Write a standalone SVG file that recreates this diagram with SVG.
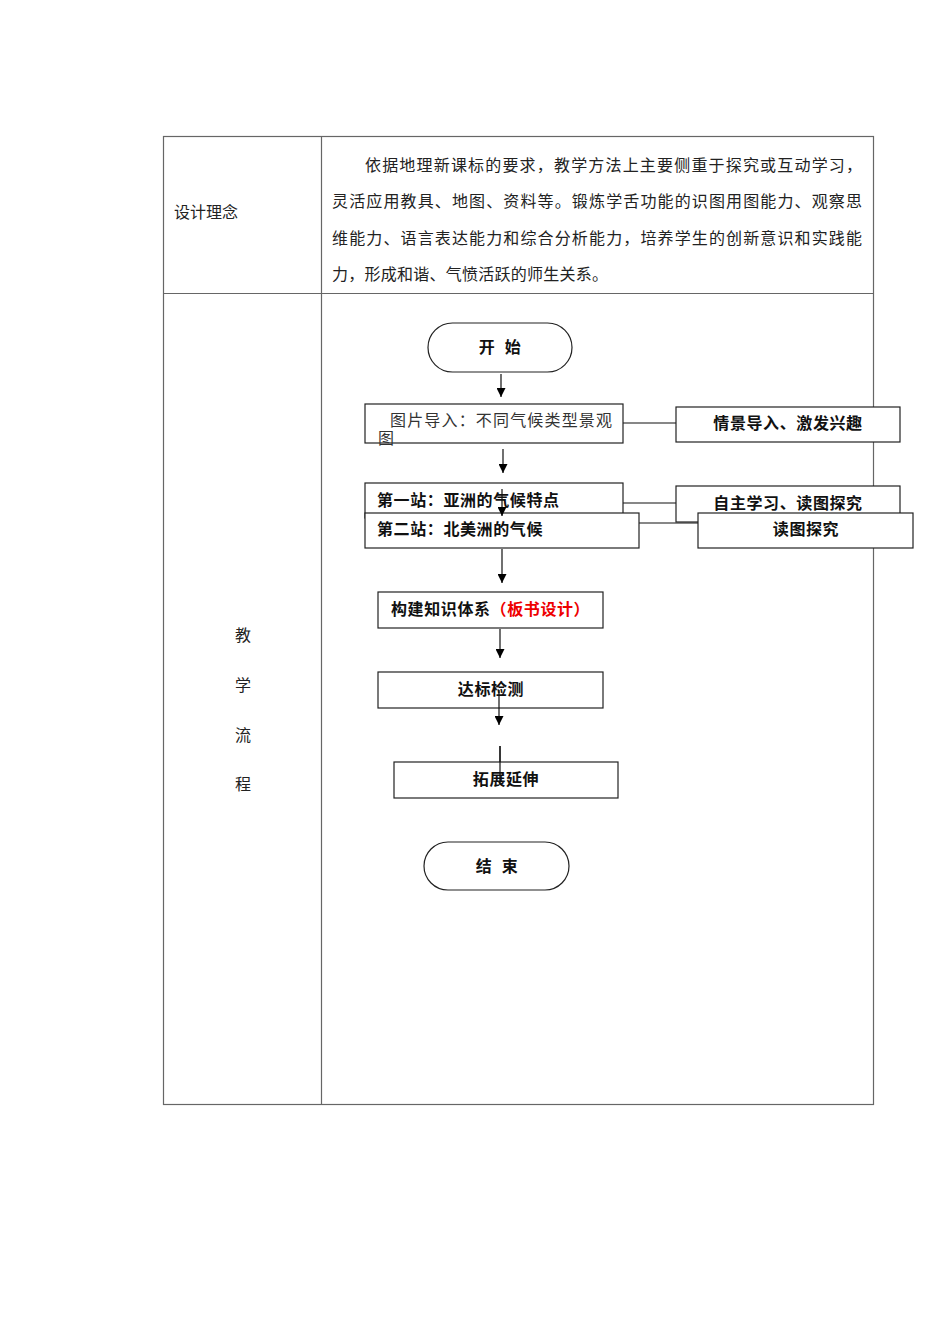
<svg xmlns="http://www.w3.org/2000/svg" width="950" height="1344" viewBox="0 0 950 1344">
<style>
.tb{fill:none;stroke:#666;stroke-width:1.2}
.bx{fill:#fff;stroke:#222;stroke-width:1.2}
.ln{stroke:#111;stroke-width:1.2;fill:none}
.t{font-family:"Liberation Serif","Noto Sans CJK SC",serif;font-size:16px;fill:#222}
.b{font-family:"Liberation Sans","Noto Sans CJK SC",sans-serif;font-size:16px;font-weight:bold;fill:#111;letter-spacing:0.6px}
.r{font-family:"Liberation Sans","Noto Sans CJK SC",sans-serif;font-size:16px;fill:#333}
</style>
<defs>
<marker id="ah" viewBox="0 0 10 10" refX="10" refY="5" markerWidth="9" markerHeight="9" markerUnits="userSpaceOnUse" orient="auto"><path d="M0,0 L10,5 L0,10 z" fill="#000"/></marker>
</defs>
<rect width="950" height="1344" fill="#fff"/>
<g id="table">
<rect class="tb" x="163.5" y="136.5" width="710" height="968"/>
<line class="tb" x1="321.5" y1="136.5" x2="321.5" y2="1104.5"/>
<line class="tb" x1="163.5" y1="293.5" x2="873.5" y2="293.5"/>
<text class="t" x="174" y="218">设计理念</text>
<text class="t" x="365" y="171" textLength="497" lengthAdjust="spacing">依据地理新课标的要求，教学方法上主要侧重于探究或互动学习，</text>
<text class="t" x="332" y="207" textLength="530" lengthAdjust="spacing">灵活应用教具、地图、资料等。锻炼学舌功能的识图用图能力、观察思</text>
<text class="t" x="332" y="244" textLength="530" lengthAdjust="spacing">维能力、语言表达能力和综合分析能力，培养学生的创新意识和实践能</text>
<text class="t" x="332" y="280" textLength="276" lengthAdjust="spacing">力，形成和谐、气愤活跃的师生关系。</text>
<text class="t" x="243" y="641" text-anchor="middle">教</text>
<text class="t" x="243" y="691" text-anchor="middle">学</text>
<text class="t" x="243" y="741" text-anchor="middle">流</text>
<text class="t" x="243" y="790" text-anchor="middle">程</text>
</g>
<g id="connectors">
<line class="ln" x1="501" y1="374" x2="501" y2="397" marker-end="url(#ah)"/>
<line class="ln" x1="623" y1="423" x2="676" y2="423"/>
<line class="ln" x1="503" y1="449" x2="503" y2="473" marker-end="url(#ah)"/>
<line class="ln" x1="623" y1="503" x2="676" y2="503"/>
<line class="ln" x1="639" y1="523" x2="698" y2="523"/>
<line class="ln" x1="502" y1="549" x2="502" y2="583" marker-end="url(#ah)"/>
<line class="ln" x1="500" y1="629" x2="500" y2="658" marker-end="url(#ah)"/>
<line class="ln" x1="500" y1="746" x2="500" y2="775"/>
</g>
<g id="start"><rect class="bx" x="428" y="323" width="144" height="49" rx="24.5"/><text class="b" x="487" y="353" text-anchor="middle">开</text><text class="b" x="513" y="353" text-anchor="middle">始</text></g>
<g id="intro"><rect class="bx" x="365" y="404" width="258" height="39"/><text class="r" x="390" y="426" textLength="222" lengthAdjust="spacing">图片导入：不同气候类型景观</text><text class="r" x="378" y="444">图</text></g>
<g id="note1"><rect class="bx" x="676" y="407" width="224" height="35"/><text class="b" x="788" y="429" text-anchor="middle">情景导入、激发兴趣</text></g>
<g id="station1"><rect class="bx" x="365" y="483" width="258" height="35"/><text class="b" x="377" y="506">第一站：亚洲的气候特点</text></g>
<g id="note2"><rect class="bx" x="676" y="486" width="224" height="36"/><text class="b" x="788" y="509" text-anchor="middle">自主学习、读图探究</text></g>
<g id="station2"><rect class="bx" x="365" y="513" width="274" height="35"/><text class="b" x="377" y="535">第二站：北美洲的气候</text></g>
<g id="note3"><rect class="bx" x="698" y="513" width="215" height="35"/><text class="b" x="806" y="535" text-anchor="middle">读图探究</text></g>
<line class="ln" x1="502" y1="489" x2="502" y2="516" marker-end="url(#ah)"/>
<g id="build"><rect class="bx" x="378" y="592" width="225" height="36"/><text class="b" x="391" y="615">构建知识体系<tspan fill="#e00">（板书设计）</tspan></text></g>
<g id="test"><rect class="bx" x="378" y="672" width="225" height="36"/><text class="b" x="491" y="695" text-anchor="middle">达标检测</text></g>
<line class="ln" x1="499" y1="690" x2="499" y2="725" marker-end="url(#ah)"/>
<g id="extend"><rect class="bx" x="394" y="762" width="224" height="36"/><text class="b" x="506" y="785" text-anchor="middle">拓展延伸</text></g>
<line class="ln" x1="500" y1="746" x2="500" y2="785"/>
<g id="end"><rect class="bx" x="424" y="842" width="145" height="48" rx="24"/><text class="b" x="484" y="872" text-anchor="middle">结</text><text class="b" x="510" y="872" text-anchor="middle">束</text></g>
</svg>
